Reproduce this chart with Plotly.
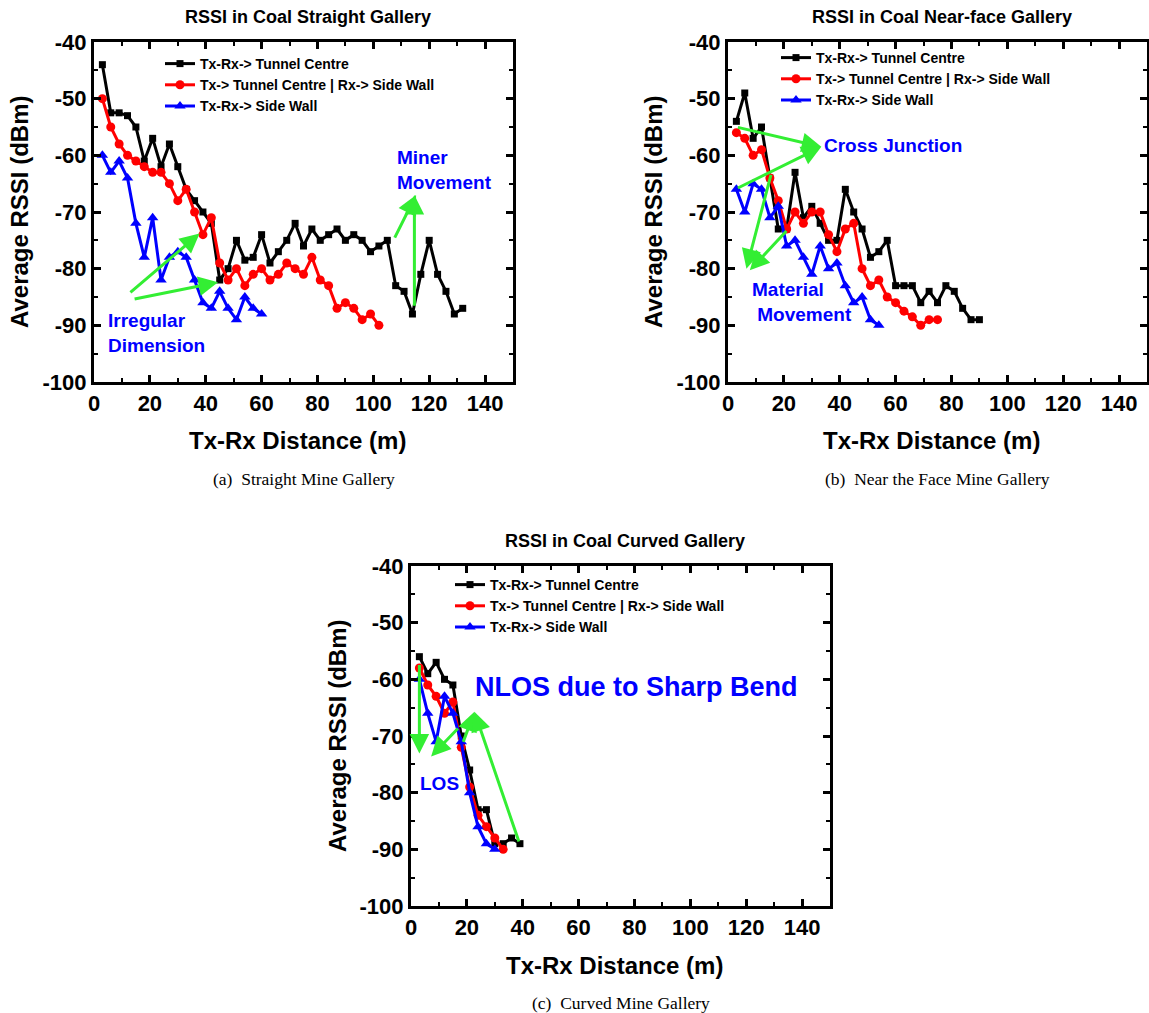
import plotly.graph_objects as go

W, H = 1149, 1013

# ---------------- data ----------------
# (a) Straight gallery
a_black_x = list(range(3, 133, 3))
a_black_y = [-44, -52.5, -52.5, -53, -55, -61, -57, -62, -58, -62, -66, -68, -70, -72,
             -82, -80, -75, -78.5, -78, -74, -79, -77, -75, -72, -76, -73, -75, -74,
             -73, -75, -74, -75, -77, -76, -75, -83, -84, -88, -81, -75, -81, -84, -88, -87]
a_red_x = list(range(3, 103, 3))
a_red_y = [-50, -55, -58, -60, -61, -62, -63, -63, -65, -68, -66, -70, -74, -71,
           -79, -82, -80, -83, -81, -80, -82, -81, -79, -80, -81, -78, -82, -83,
           -87, -86, -87, -89, -88, -90]
a_blue_x = list(range(3, 61, 3))
a_blue_y = [-60, -63, -61, -64, -72, -78, -71, -82, -78, -77, -78, -82, -86, -87,
            -84, -87, -89, -85, -87, -88]

# (b) Near-face gallery
b_black_x = list(range(3, 91, 3))
b_black_y = [-54, -49, -57, -55, -64, -73, -73, -63, -71, -69, -72, -75, -75, -66,
             -70, -73, -78, -77, -75, -83, -83, -83, -86, -84, -86, -83, -84, -87, -89, -89]
b_red_x = list(range(3, 76, 3))
b_red_y = [-56, -57, -60, -59, -64, -68, -73, -70, -72, -70, -70, -74, -77, -73,
           -72, -80, -83, -82, -85, -86, -87.5, -88.5, -90, -89, -89]
b_blue_x = list(range(3, 55, 3))
b_blue_y = [-66, -70, -65, -66, -71, -69, -76, -75, -78, -81, -76, -80, -79, -83,
            -86, -85, -89, -90]

# (c) Curved gallery
c_black_x = list(range(3, 40, 3))
c_black_y = [-56, -59, -57, -60, -61, -70, -76, -83, -83, -89, -89, -88, -89]
c_red_x = list(range(3, 34, 3))
c_red_y = [-58, -61, -63, -66, -64, -72, -79, -84, -86, -88, -90]
c_blue_x = list(range(3, 31, 3))
c_blue_y = [-60, -66, -71, -63, -66, -71, -80, -86, -89, -90]

series_names = ["Tx-Rx-> Tunnel Centre", "Tx-> Tunnel Centre | Rx-> Side Wall", "Tx-Rx-> Side Wall"]
titles = ["RSSI in Coal Straight Gallery", "RSSI in Coal Near-face Gallery", "RSSI in Coal Curved Gallery"]
captions = ["(a)  Straight Mine Gallery", "(b)  Near the Face Mine Gallery", "(c)  Curved Mine Gallery"]
x_ticks = [0, 20, 40, 60, 80, 100, 120, 140]
x_ticktext = ["0", "20", "40", "60", "80", "100", "120", "140"]
y_ticks = [-100, -90, -80, -70, -60, -50, -40]
y_ticktext = ["-100", "-90", "-80", "-70", "-60", "-50", "-40"]

# ---------------- layout geometry (pixels) ----------------
panels = [
    dict(l=94, r=513, t=42, b=382),
    dict(l=728, r=1147, t=42, b=382),
    dict(l=411, r=830, t=566, b=906),
]

FONT = "Liberation Sans, Arial, sans-serif"
BLACK, RED, BLUE, GREEN = "#000000", "#ff0000", "#0000ff", "#33ee33"

fig = go.Figure()

data = [
    [(a_black_x, a_black_y), (a_red_x, a_red_y), (a_blue_x, a_blue_y)],
    [(b_black_x, b_black_y), (b_red_x, b_red_y), (b_blue_x, b_blue_y)],
    [(c_black_x, c_black_y), (c_red_x, c_red_y), (c_blue_x, c_blue_y)],
]
styles = [
    dict(color=BLACK, symbol="square", size=7),
    dict(color=RED, symbol="circle", size=9),
    dict(color=BLUE, symbol="triangle-up", size=10),
]
legend_ids = ["legend", "legend2", "legend3"]

for p, panel in enumerate(data):
    xa = "x" if p == 0 else f"x{p+1}"
    ya = "y" if p == 0 else f"y{p+1}"
    for s, (xs, ys) in enumerate(panel):
        st = styles[s]
        fig.add_trace(go.Scatter(
            x=xs, y=ys, mode="lines+markers", name=series_names[s],
            line=dict(color=st["color"], width=3),
            marker=dict(color=st["color"], symbol=st["symbol"], size=st["size"]),
            xaxis=xa, yaxis=ya, legend=legend_ids[p],
        ))

def axis_common():
    return dict(
        showline=True, linewidth=3, linecolor="black", mirror="ticks",
        ticks="inside", ticklen=7, tickwidth=2.5, tickcolor="black",
        showgrid=False, zeroline=False, automargin=False,
        tickfont=dict(family=FONT, size=22, color="black", weight="bold"),
    )

layout = dict(
    width=W, height=H, margin=dict(l=0, r=0, t=0, b=0, autoexpand=False),
    paper_bgcolor="white", plot_bgcolor="white", showlegend=True,
)

legend_pos = [(160, 48), (776, 42), (450, 569)]
annotations = []
for p, g in enumerate(panels):
    sx = "" if p == 0 else str(p + 1)
    xd = [g["l"] / W, g["r"] / W]
    yd = [1 - g["b"] / H, 1 - g["t"] / H]
    xax = axis_common()
    xax.update(domain=xd, range=[0, 150], tickvals=x_ticks, ticktext=x_ticktext, anchor="y" + sx,
               minor=dict(ticks="inside", ticklen=4, tickwidth=2, tickcolor="black", dtick=10, tick0=0))
    yax = axis_common()
    yax.update(domain=yd, range=[-100, -40], tickvals=y_ticks, ticktext=y_ticktext, anchor="x" + sx,
               minor=dict(ticks="inside", ticklen=4, tickwidth=2, tickcolor="black", dtick=5, tick0=-100))
    layout["xaxis" + sx] = xax
    layout["yaxis" + sx] = yax
    lx, ly = legend_pos[p]
    layout[legend_ids[p]] = dict(
        x=lx / W, y=1 - ly / H, xanchor="left", yanchor="top",
        bgcolor="rgba(0,0,0,0)", borderwidth=0, tracegroupgap=0,
        font=dict(family=FONT, size=14, color="black", weight="bold"),
    )
    cx = (g["l"] + g["r"]) / 2
    # chart title
    annotations.append(dict(text=titles[p], xref="paper", yref="paper",
                            x=(cx + 4) / W, y=1 - (g["t"] - 25) / H, showarrow=False,
                            xanchor="center", yanchor="middle",
                            font=dict(family=FONT, size=18, color="black", weight="bold")))
    # x title
    annotations.append(dict(text="Tx-Rx Distance (m)", xref="paper", yref="paper",
                            x=(cx - 6) / W, y=1 - (g["b"] + 59) / H, showarrow=False,
                            xanchor="center", yanchor="middle",
                            font=dict(family=FONT, size=24, color="black", weight="bold")))
    # y title
    annotations.append(dict(text="Average RSSI (dBm)", xref="paper", yref="paper",
                            x=(g["l"] - 74) / W, y=1 - ((g["t"] + g["b"]) / 2) / H, showarrow=False,
                            xanchor="center", yanchor="middle", textangle=-90,
                            font=dict(family=FONT, size=24, color="black", weight="bold")))
    # caption
    annotations.append(dict(text=captions[p], xref="paper", yref="paper",
                            x=(cx + 0) / W, y=1 - (g["b"] + 97) / H, showarrow=False,
                            xanchor="center", yanchor="middle",
                            font=dict(family="Liberation Serif, Times New Roman, serif", size=17.5, color="black")))

def txt(text, x, y, xr, yr, size=19, xanchor="left", align="left"):
    annotations.append(dict(text=text, x=x, y=y, xref=xr, yref=yr, showarrow=False,
                            xanchor=xanchor, yanchor="middle", align=align,
                            font=dict(family=FONT, size=size, color=BLUE, weight="bold")))

def arrow(hx, hy, tx, ty, xr, yr):
    annotations.append(dict(text="", x=hx, y=hy, ax=tx, ay=ty, xref=xr, yref=yr,
                            axref=xr, ayref=yr, showarrow=True, arrowhead=2,
                            arrowsize=1.3, arrowwidth=3, arrowcolor=GREEN, standoff=0))

# (a) annotations
txt("Irregular<br>Dimension", 4.2, -91.4, "x", "y")
arrow(37.8, -73.8, 12.5, -84.4, "x", "y")
arrow(44.4, -82.4, 14.0, -85.4, "x", "y")
txt("Miner<br>Movement", 107.6, -62.5, "x", "y")
arrow(115.3, -67, 107.4, -74.8, "x", "y")
arrow(114.7, -67, 114.7, -86.8, "x", "y")

# (b) annotations
txt("Cross Junction", 33.5, -58.2, "x2", "y2")
arrow(33.4, -58.5, 3, -55, "x2", "y2")
arrow(33.4, -58.5, 3, -65.9, "x2", "y2")
txt("Material<br> Movement", 7.8, -85.9, "x2", "y2")
arrow(6.6, -80, 15.5, -63.2, "x2", "y2")
arrow(7.8, -80.3, 21.4, -73.1, "x2", "y2")

# (c) annotations
txt("NLOS due to Sharp Bend", 22.3, -61.3, "x3", "y3", size=27)
txt("LOS", 10.2, -78.3, "x3", "y3", xanchor="center", align="center")
arrow(3, -73.1, 3, -57.2, "x3", "y3")
arrow(7.2, -73.6, 17.3, -68.4, "x3", "y3")
arrow(22.7, -65.7, 18.5, -71.3, "x3", "y3")
arrow(22.7, -65.7, 38.8, -88.9, "x3", "y3")

layout["annotations"] = annotations
fig.update_layout(**layout)
fig.write_html("out.html", config={"displayModeBar": False},
               post_script="document.body.style.margin='0';document.body.style.overflow='hidden';")
